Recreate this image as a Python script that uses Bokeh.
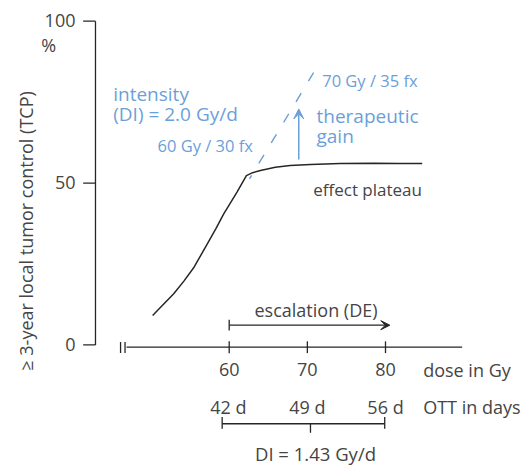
from math import pi
from bokeh.plotting import figure
from bokeh.models import Range1d, Arrow, VeeHead
from bokeh.core.properties import value
from bokeh.embed import file_html
from bokeh.resources import INLINE

# ---------------- data ----------------
# TCP curve for conventional fractionation (dose in Gy, TCP in %)
curve_dose = [50.2, 52.9, 54.2, 55.5, 57.2, 58.3, 59.3, 61.0, 62.2, 63.0, 64.0,
              65.9, 67.8, 70.4, 74.2, 78.5, 81.9, 84.7]
curve_tcp = [9.1, 15.8, 19.7, 24.0, 31.2, 35.9, 40.5, 47.2, 52.3, 53.2, 53.9,
             54.9, 55.4, 55.7, 56.0, 56.1, 56.0, 56.0]

# hypothetical continuation at DI = 2.0 Gy/d (dashed)
di2_dose = [62.6, 71.6]
di2_tcp = [51.3, 87.3]

# therapeutic gain arrow (dose, tcp from -> to)
gain_dose = 68.9
gain_tcp = [57.3, 72.9]

# axes
y_ticks = [0, 50, 100]
y_tick_labels = ["0", "50", "100"]
x_ticks = [60, 70, 80]
x_tick_labels = ["60", "70", "80"]
ott_days = [42, 49, 56]
ott_labels = ["42 d", "49 d", "56 d"]
ott_label_dose = [59.9, 70.0, 80.0]
ott_tick_dose = [59.1, 70.4, 79.9]

# escalation arrow (dose from -> to)
esc_dose = [60.0, 80.55]

FONT = "Open Sans"
TXT = "#454545"
LINE = "#262626"
BLUE = "#6b9fd9"

PX_PER_TCP = 3.237
PX_PER_GY = 7.815


def lift(fs):
    # baseline correction (in TCP units) for the svg text rendering
    return 0.38 * fs / PX_PER_TCP


W, H = 522, 466
p = figure(width=W, height=H, output_backend="svg", toolbar_location=None,
           x_range=Range1d(30.736, 97.53), y_range=Range1d(-37.57, 106.39),
           x_axis_type=None, y_axis_type=None, min_border=0)
p.outline_line_color = None
p.background_fill_color = "white"
p.border_fill_color = "white"


def txt(x, y, s, fs, color=TXT, align="left", **kw):
    p.text(x=x, y=[v + lift(fs) for v in y], text=s, text_font=value(FONT),
           text_font_size=f"{fs}px", text_color=color, text_align=align,
           text_baseline="alphabetic", **kw)


# ---------------- y axis ----------------
y_axis_x = 42.89
tick_len = 1.58
p.segment(x0=[y_axis_x], y0=[0], x1=[y_axis_x], y1=[100], line_color=LINE, line_width=1.3)
p.segment(x0=[y_axis_x - tick_len] * 3, y0=y_ticks, x1=[y_axis_x] * 3, y1=y_ticks,
          line_color=LINE, line_width=1.3)
txt([40.33] * 3, [t - 2.0 for t in y_ticks], y_tick_labels, 18, align="right")
txt([35.94], [90.5], ["%"], 18)
p.text(x=[34.83 - 0.38 * 18 / PX_PER_GY], y=[35.2], text=["\u2265 3-year local tumor control (TCP)"],
       angle=pi / 2, text_font=value(FONT), text_font_size="18px", text_color=TXT,
       text_align="center", text_baseline="alphabetic")

# ---------------- dose axis ----------------
x_axis_y = -0.7
p.segment(x0=[46.87], y0=[x_axis_y], x1=[89.81], y1=[x_axis_y], line_color=LINE, line_width=1.3)
p.segment(x0=[46.1, 46.67], y0=[0.9, 0.9], x1=[46.1, 46.67], y1=[-2.5, -2.5],
          line_color=LINE, line_width=1.3)
p.segment(x0=x_ticks, y0=[1.1] * 3, x1=x_ticks, y1=[-2.55] * 3, line_color=LINE, line_width=1.3)
txt(x_ticks, [-9.76] * 3, x_tick_labels, 18, align="center")
txt([84.82], [-9.76], ["dose in Gy"], 18)

# ---------------- OTT bracket ----------------
br_y = -24.37
p.segment(x0=[ott_tick_dose[0]], y0=[br_y], x1=[ott_tick_dose[2]], y1=[br_y],
          line_color=LINE, line_width=1.3)
p.segment(x0=[ott_tick_dose[0], ott_tick_dose[2]], y0=[-22.3, -22.3],
          x1=[ott_tick_dose[0], ott_tick_dose[2]], y1=[-25.9, -25.9],
          line_color=LINE, line_width=1.3)
p.segment(x0=[ott_tick_dose[1]], y0=[br_y], x1=[ott_tick_dose[1]], y1=[-27.15],
          line_color=LINE, line_width=1.3)
txt(ott_label_dose, [-21.29] * 3, ott_labels, 18, align="center")
txt([84.82], [-21.29], ["OTT in days"], 18)
txt([71.04], [-35.71], ["DI = 1.43 Gy/d"], 18.5, align="center")

# ---------------- escalation arrow ----------------
esc_y = 6.09
p.segment(x0=[esc_dose[0]], y0=[7.75], x1=[esc_dose[0]], y1=[4.45], line_color=LINE, line_width=1.3)
p.add_layout(Arrow(x_start=esc_dose[0], y_start=esc_y, x_end=esc_dose[1], y_end=esc_y,
                   line_color=LINE, line_width=1.3,
                   end=VeeHead(size=9, line_color=LINE, fill_color=LINE, line_width=1)))
txt([71.11], [8.56], ["escalation (DE)"], 18, align="center")

# ---------------- curves ----------------
p.line(di2_dose, di2_tcp, line_color=BLUE, line_width=1.4, line_dash="10 14", line_dash_offset=6)
p.line(curve_dose, curve_tcp, line_color=LINE, line_width=1.5)
p.add_layout(Arrow(x_start=gain_dose, y_start=gain_tcp[0], x_end=gain_dose, y_end=gain_tcp[1],
                   line_color=BLUE, line_width=1.5,
                   end=VeeHead(size=10, line_color=BLUE, fill_color=BLUE, line_width=1)))

# ---------------- annotations ----------------
txt([70.75], [46.15], ["effect plateau"], 17)
txt([45.16, 45.16], [75.19, 69.01], ["intensity", "(DI) = 2.0 Gy/d"], 19, color=BLUE)
txt([50.83], [59.53], ["60 Gy / 30 fx"], 16.5, color=BLUE)
txt([71.9], [79.61], ["70 Gy / 35 fx"], 16.5, color=BLUE)
txt([71.17, 71.17], [68.49, 62.31], ["therapeutic", "gain"], 19, color=BLUE)

open("out.html", "w").write(file_html(p, INLINE))
